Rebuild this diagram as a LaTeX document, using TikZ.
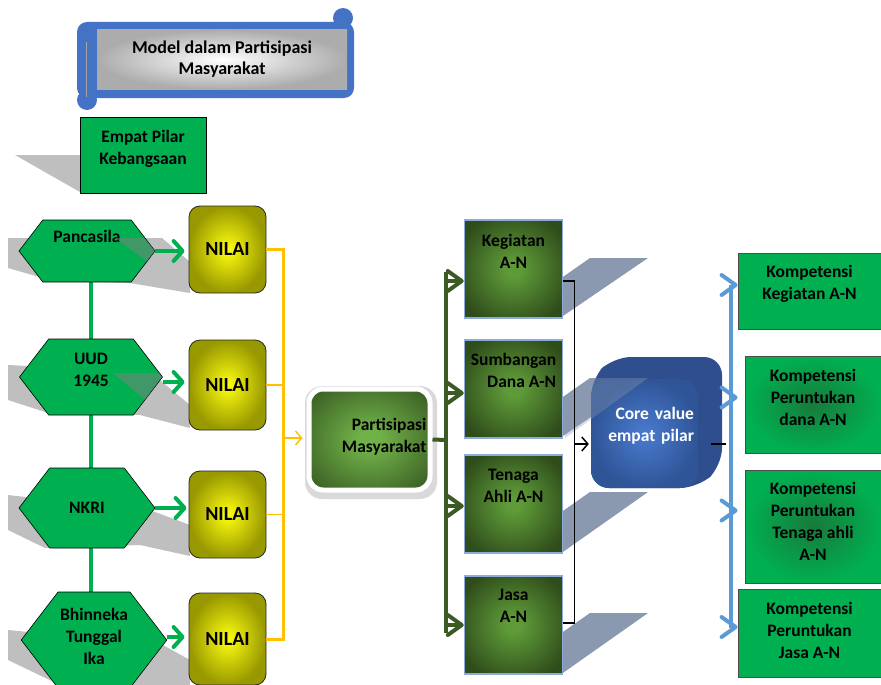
\documentclass[tikz,border=0pt]{standalone}
\usepackage{fontspec}
\setmainfont{Carlito}
\usetikzlibrary{arrows.meta, positioning, shapes.symbols, calc}

\definecolor{pilargreen}{HTML}{00B050}
\definecolor{scrollblue}{HTML}{4472C4}
\definecolor{nilaicore}{HTML}{FFFF10}
\definecolor{nilaiedge}{HTML}{989800}
\definecolor{nilaiorange}{HTML}{FFC000}
\definecolor{partcore}{HTML}{70B048}
\definecolor{partedge}{HTML}{3C6125}
\definecolor{boxcore}{HTML}{5E9A38}
\definecolor{boxedge}{HTML}{2F4D1B}
\definecolor{boxborder}{HTML}{8EAADB}
\definecolor{slate}{HTML}{8A98B0}
\definecolor{darkline}{HTML}{3B5A24}
\definecolor{corelight}{HTML}{4A7BD0}
\definecolor{coreedge}{HTML}{2F5597}
\definecolor{coreside}{HTML}{2E4E8E}
\definecolor{trunkblue}{HTML}{5B9BD5}
\definecolor{kompcore}{HTML}{187A3C}
\definecolor{shadowgray}{HTML}{BFBFBF}

\pgfdeclareradialshading{partglow}{\pgfpointorigin}{color(0bp)=(partcore); color(5bp)=(partcore); color(32bp)=(partedge); color(50bp)=(partedge)}
\pgfdeclareradialshading{boxglow}{\pgfpointorigin}{color(0bp)=(boxcore); color(4bp)=(boxcore); color(30bp)=(boxedge); color(50bp)=(boxedge)}

\begin{document}
\begin{tikzpicture}[
    x=1pt, y=-1pt,
    every node/.style={font=\bfseries\fontsize{17.5}{22}\selectfont, align=center, inner sep=2pt},
    titlebox/.style={rectangle, inner color=white, outer color=gray!65,
      minimum width=250pt, minimum height=59pt, font=\bfseries\fontsize{18}{21}\selectfont},
    pilar/.style={rectangle, fill=pilargreen, draw=black, line width=0.6pt},
    hexa/.style={signal, signal to=east and west, signal pointer angle=105,
      fill=pilargreen, draw=black, line width=0.6pt},
    nilai/.style={rectangle, rounded corners=11pt, draw=black!85, line width=0.8pt,
      inner color=nilaicore, outer color=nilaiedge, minimum width=77pt,
      font=\bfseries\fontsize{20}{24}\selectfont},
    partbox/.style={rectangle, rounded corners=14pt, draw=white, line width=5pt,
      shading=partglow, minimum width=121pt, minimum height=101pt},
    anbox/.style={rectangle, draw=boxborder, line width=1.5pt,
      shading=boxglow, minimum width=98pt, minimum height=98pt},
    corebox/.style={rectangle, rounded corners=18pt, inner color=corelight, outer color=coreedge,
      minimum width=107pt, minimum height=109pt, text=white},
    komp/.style={rectangle, fill=pilargreen, draw=black!70, line width=0.8pt},
    kompdark/.style={komp, inner color=kompcore, outer color=pilargreen},
    gline/.style={draw=pilargreen, line width=4pt},
    garr/.style={draw=pilargreen, line width=4pt, -{Straight Barb[length=9pt, width=20pt, round]}},
    yline/.style={draw=nilaiorange, line width=3pt},
    dline/.style={draw=darkline, line width=4pt},
    darr/.style={draw=darkline, line width=4pt, -{Straight Barb[length=14pt, width=20pt, round]}},
    bline/.style={draw=black, line width=1.5pt},
    kline/.style={draw=trunkblue, line width=4pt},
    barr/.style={draw=trunkblue, line width=4pt, -{Straight Barb[length=14pt, width=20pt, round]}},
  ]
  \useasboundingbox (0,0) rectangle (881,685);

  % title scroll
  \fill[scrollblue, rounded corners=10pt] (77,22) rectangle (354,98);
  \fill[scrollblue] (343,18) circle (10pt);
  \fill[scrollblue] (87,100) circle (10pt);
  \node[titlebox] (title) at (222,59.5) {Model dalam Partisipasi\\Masyarakat};
  \draw[gray!70, line width=1pt] (86,42) -- (86,97);

  % shadows
  \fill[shadowgray] (15,155) -- (80,155) -- (80,192) -- cycle;
  \fill[shadowgray] (8,238) -- (162,238) -- (190,262) -- (190,293) -- (130,283) -- (50,280) -- (8,268) -- cycle;
  \fill[shadowgray] (8,365) -- (150,372) -- (190,405) -- (190,428) -- (140,415) -- (45,412) -- (8,400) -- cycle;
  \fill[shadowgray] (8,495) -- (155,512) -- (190,525) -- (190,556) -- (140,545) -- (45,548) -- (8,530) -- cycle;
  \fill[shadowgray] (8,630) -- (163,645) -- (190,660) -- (190,685) -- (60,685) -- (8,660) -- cycle;
  \foreach \t/\b in {220/318, 340/438, 454/554, 575/675}
    \fill[slate] (560,\t+59) -- (590,\t+38) -- (648,\t+38) -- (560,\b) -- cycle;

  % Empat pilar
  \node[pilar, minimum width=126pt, minimum height=76pt, text depth=15pt] (empat) at (143,155) {Empat Pilar\\Kebangsaan};

  % hexagons
  \draw[gline] (91,251) -- (91,640);
  \node[hexa, minimum width=136pt, minimum height=62pt, text depth=29pt] (pan) at (87,251) {Pancasila};
  \node[hexa, minimum width=143pt, minimum height=76pt, text depth=15pt] (uud) at (91,377) {UUD\\1945};
  \node[hexa, minimum width=136pt, minimum height=80pt] (nkri) at (87,508) {NKRI};
  \node[hexa, minimum width=138pt, minimum height=96pt, text depth=7pt] (bhi) at (94,640) {Bhinneka\\Tunggal\\Ika};
  \fill[gray, opacity=0.5] (115,238) -- (144.5,238) -- (155,251) -- (146.7,261.3) -- cycle;
  \fill[gray, opacity=0.5] (113,373) -- (159,373) -- (162,377) -- (145,400) -- cycle;

  % nilai
  \node[nilai, minimum height=87pt] (n1) at (227.5,249.5) {NILAI};
  \node[nilai, minimum height=90pt] (n2) at (227.5,385) {NILAI};
  \node[nilai, minimum height=87pt] (n3) at (227.5,514.5) {NILAI};
  \node[nilai, minimum height=92pt] (n4) at (227.5,639) {NILAI};

  \draw[garr, shorten >=4pt] (pan.east) -- (pan.east -| n1.west);
  \draw[garr, shorten >=4pt] ([yshift=-5pt]uud.east) -- ([yshift=-5pt]uud.east -| n2.west);
  \draw[garr, shorten >=2pt] (nkri.east) -- (nkri.east -| n3.west);
  \draw[garr, shorten >=4pt] ([yshift=3pt]bhi.east) -- ([yshift=3pt]bhi.east -| n4.west);

  % partisipasi
  \fill[gray!30, rounded corners=17pt] (305,386) rectangle (437,499);
  \node[partbox, text width=114pt, align=right, text depth=31pt] (par) at (369.5,439.5) {Partisipasi\\Masyarakat};

  \coordinate (ytrunk) at (283,438);
  \draw[yline] (n1.east) -- (n1.east -| ytrunk) -- (n4.east -| ytrunk) -- (n4.east);
  \draw[yline, line width=1.5pt] (n2.east) -- (n2.east -| ytrunk);
  \draw[yline, line width=1.5pt] (n3.east) -- (n3.east -| ytrunk);
  \draw[yline, line width=1.5pt, -{Straight Barb[length=6pt, width=14pt]}, shorten >=4pt] (ytrunk) -- (ytrunk -| par.west);

  % A-N boxes
  \node[anbox, text depth=36pt] (keg) at (513.5,269) {Kegiatan\\A-N};
  \node[anbox, text depth=37pt, align=right] (sum) at (513.5,389) {Sumbangan\\Dana A-N};
  \node[anbox, text depth=37pt] (ten) at (513.5,504) {Tenaga\\Ahli A-N};
  \node[anbox, text depth=38pt] (jas) at (513.5,625) {Jasa\\A-N};

  \coordinate (gtrunk) at (446,440);
  \draw[dline] (par.east) -- (gtrunk);
  \draw[dline] ([yshift=-3pt]gtrunk |- keg.west) -- ([yshift=-8pt]gtrunk |- jas.west);
  \draw[darr] ([yshift=-12pt]gtrunk |- keg.west) -- ([yshift=-12pt]keg.west);
  \draw[darr] ([yshift=-4pt]gtrunk |- sum.west) -- ([yshift=-4pt]sum.west);
  \draw[darr] ([yshift=-2pt]gtrunk |- ten.west) -- ([yshift=-2pt]ten.west);
  \draw[darr] (gtrunk |- jas.west) -- (jas.west);

  % core value
  \fill[coreside, rounded corners=18pt] (591,379) -- (613,357) -- (722,357) -- (722,466) -- (698,488) -- (591,488) -- cycle;
  \node[corebox, text width=99pt, align=right, text depth=40pt, inner sep=0pt] (core) at (644.5,433.5) {Core value\\empat pilar};
  \fill[slate, opacity=0.35] (565,399) -- (590,378) -- (648,378) -- (565,438) -- cycle;

  \draw[bline] ([yshift=-12pt]keg.east) -- ++(11,0) |- ([yshift=2pt]jas.east);
  \coordinate (btrunk) at (574,444);
  \draw[bline, -{Straight Barb[length=6pt, width=14pt]}, shorten >=2pt] (btrunk) -- (btrunk -| core.west);
  \coordinate (cvend) at (726,444);
  \draw[bline] ([xshift=13pt,yshift=-10.5pt]core.east) -- (cvend);

  % kompetensi
  \node[komp, minimum width=143pt, minimum height=76pt, text depth=17pt] (k1) at (809.5,291) {Kompetensi\\Kegiatan A-N};
  \node[kompdark, minimum width=136pt, minimum height=97pt, text depth=14pt] (k2) at (813,404.5) {Kompetensi\\Peruntukan\\dana A-N};
  \node[kompdark, minimum width=136pt, minimum height=113pt, text depth=10pt] (k3) at (813,526.5) {Kompetensi\\Peruntukan\\Tenaga ahli\\A-N};
  \node[komp, minimum width=143pt, minimum height=88pt, text depth=5pt] (k4) at (809.5,633) {Kompetensi\\Peruntukan\\Jasa A-N};

  \coordinate (ktrunk) at (731,440);
  \draw[kline] ([yshift=6pt]ktrunk |- k1.west) -- ([yshift=5pt]ktrunk |- k4.west);
  \draw[barr] ([yshift=6pt]ktrunk |- k1.west) -- ([yshift=6pt]k1.west);
  \draw[barr, shorten >=7pt] ([yshift=7pt]ktrunk |- k2.west) -- ([yshift=7pt]k2.west);
  \draw[barr, shorten >=7pt] ([yshift=16pt]ktrunk |- k3.west) -- ([yshift=16pt]k3.west);
  \draw[barr] ([yshift=6pt]ktrunk |- k4.west) -- ([yshift=6pt]k4.west);

\end{tikzpicture}
\end{document}
